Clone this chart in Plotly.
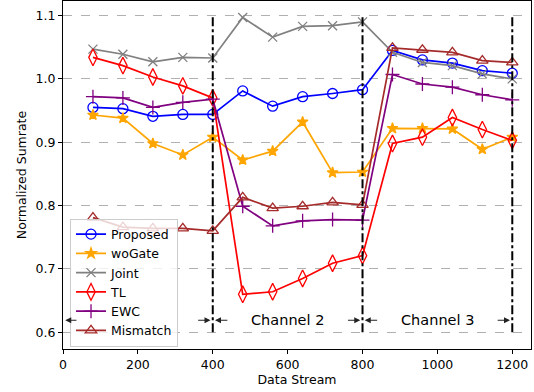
import plotly.graph_objects as go

x = [80, 160, 240, 320, 400, 480, 560, 640, 720, 800, 880, 960, 1040, 1120, 1200]

proposed = [0.955, 0.953, 0.941, 0.944, 0.944, 0.981, 0.957, 0.972, 0.977, 0.983, 1.045, 1.030, 1.025, 1.013, 1.009]
wogate   = [0.943, 0.938, 0.898, 0.880, 0.908, 0.872, 0.886, 0.932, 0.852, 0.853, 0.922, 0.922, 0.921, 0.889, 0.908]
joint    = [1.047, 1.039, 1.027, 1.034, 1.033, 1.097, 1.066, 1.083, 1.084, 1.090, 1.042, 1.026, 1.021, 1.008, 1.000]
tl       = [1.034, 1.021, 1.003, 0.989, 0.970, 0.660, 0.664, 0.685, 0.709, 0.721, 0.898, 0.908, 0.939, 0.920, 0.903]
ewc      = [0.972, 0.970, 0.955, 0.963, 0.968, 0.799, 0.768, 0.776, 0.778, 0.777, 1.007, 0.992, 0.987, 0.975, 0.967]
mismatch = [0.781, 0.766, 0.764, 0.764, 0.760, 0.813, 0.796, 0.799, 0.805, 0.801, 1.049, 1.046, 1.042, 1.029, 1.026]

names = ["Proposed", "woGate", "Joint", "TL", "EWC", "Mismatch"]
series = [proposed, wogate, joint, tl, ewc, mismatch]
colors = ["#0000ff", "#ffa500", "#808080", "#ff0000", "#800080", "#a52a2a"]
symbols = ["circle-open", "star", "x-thin-open", "diamond-tall-open", "cross-thin-open", "triangle-up-open"]
msizes = [10, 8, 9, 12, 10, 10]

boundaries = [400, 800, 1200]
channel_labels = ["Channel 2", "Channel 3"]
channel_label_x = [600, 1000]

fig = go.Figure()
for n, s, c, sym, ms in zip(names, series, colors, symbols, msizes):
    fig.add_trace(go.Scatter(
        x=x, y=s, name=n, mode="lines+markers",
        line=dict(color=c, width=1.7),
        marker=dict(symbol=sym, size=ms, color=c, line=dict(color=c, width=1.3)),
    ))

for b in boundaries:
    fig.add_shape(type="line", x0=b, x1=b, y0=0.6, y1=1.1, xref="x", yref="y",
                  line=dict(color="black", width=2, dash="dashdot"))

arrow_y = 0.619
arrows = [(40, 6), (357, 394), (443, 406), (757, 794), (843, 806), (1157, 1194)]
for tail, head in arrows:
    fig.add_annotation(x=head, y=arrow_y, ax=tail, ay=arrow_y, xref="x", yref="y",
                       axref="x", ayref="y", text="", showarrow=True,
                       arrowhead=2, arrowsize=1, arrowwidth=1.2, arrowcolor="#222222")

for lbl, lx in zip(channel_labels, channel_label_x):
    fig.add_annotation(x=lx, y=arrow_y, text=lbl, showarrow=False, xref="x", yref="y",
                       font=dict(size=14.5, color="black"))

axis_common = dict(showline=True, mirror=True, linecolor="black", linewidth=1,
                   ticks="outside", ticklen=4, tickcolor="black",
                   tickfont=dict(size=12.5, color="black"), zeroline=False)

fig.update_xaxes(range=[0, 1250], tickvals=[0, 200, 400, 600, 800, 1000, 1200],
                 showgrid=False,
                 title=dict(text="Data Stream", font=dict(size=12.5, color="black"), standoff=4),
                 **axis_common)
fig.update_yaxes(range=[0.5736, 1.123], tickvals=[0.6, 0.7, 0.8, 0.9, 1.0, 1.1], tickformat=".1f",
                 showgrid=True, gridcolor="#b0b0b0", griddash="dash", gridwidth=1,
                 title=dict(text="Normalized Sumrate", font=dict(size=12.5, color="black"), standoff=6),
                 **axis_common)

fig.update_layout(
    width=534, height=392,
    margin=dict(l=63, r=3, t=1, b=43),
    paper_bgcolor="white", plot_bgcolor="white",
    font=dict(family="DejaVu Sans", color="black"),
    legend=dict(x=0.015, y=0.375, xanchor="left", yanchor="top",
                bgcolor="rgba(255,255,255,0.8)", bordercolor="#cccccc", borderwidth=1,
                font=dict(size=12.5), itemwidth=30, tracegroupgap=0),
)

fig.write_html("out.html")
